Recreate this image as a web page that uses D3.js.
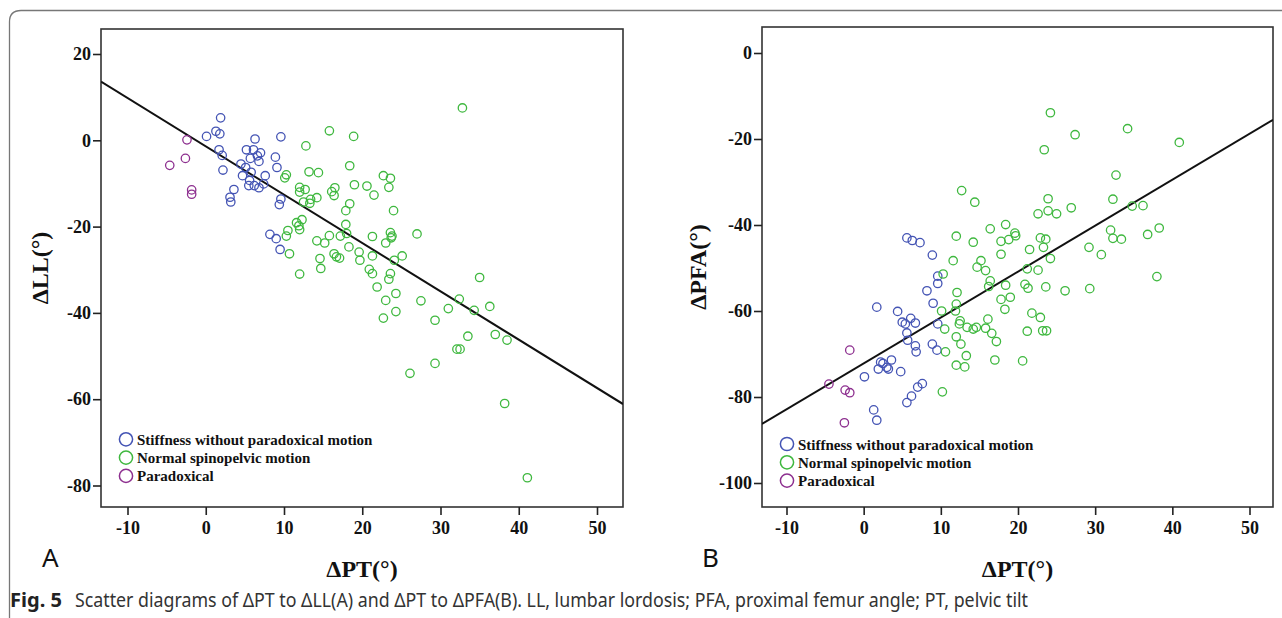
<!DOCTYPE html>
<html><head><meta charset="utf-8">
<script src="https://cdn.jsdelivr.net/npm/d3@7"></script>
<style>
body{margin:0;background:#fff;}
svg{display:block;}
</style></head>
<body><svg id="c" width="1282" height="618"></svg>
<script>
// ---- Data: panel A (ΔPT vs ΔLL)
const groupNames = ["Stiffness without paradoxical motion","Normal spinopelvic motion","Paradoxical"];
const groupColors = ["#4454b4","#3fb83f","#8d2f8f"];
const xTicks = [-10,0,10,20,30,40,50];
const yTicksA = [20,0,-20,-40,-60,-80];
const yTicksB = [0,-20,-40,-60,-80,-100];

const stiffA = [[1.9,5.2],[0.1,0.9],[1.3,2.1],[1.8,1.5],[1.7,-2.2],[2.1,-3.5],[2.2,-6.9],[3.6,-11.4],[3.1,-13.2],[3.2,-14.3],[6.3,0.3],[5.2,-2.2],[6.1,-2.2],[7.0,-2.9],[6.6,-3.6],[5.7,-4.2],[6.8,-4.9],[4.5,-5.5],[5.1,-6.3],[5.8,-7.4],[4.7,-8.2],[7.6,-8.2],[5.6,-9.3],[5.5,-10.5],[6.2,-10.5],[6.8,-11.0],[7.4,-10.1],[9.6,0.8],[8.9,-3.9],[9.1,-6.3],[9.6,-13.6],[9.4,-14.9],[9.5,-25.3],[8.2,-21.8],[9.0,-22.8]];
const normalA = [[15.8,2.2],[18.9,0.9],[12.8,-1.3],[13.2,-7.3],[14.4,-7.5],[18.4,-5.9],[19.0,-10.3],[10.3,-8.0],[10.1,-8.7],[12.0,-10.9],[12.7,-11.4],[12.0,-12.0],[14.2,-13.3],[13.4,-13.7],[12.5,-14.3],[13.3,-14.6],[16.1,-11.9],[16.5,-11.0],[16.4,-12.8],[18.4,-14.7],[17.9,-16.3],[32.8,7.5],[22.7,-8.2],[23.6,-8.8],[23.4,-10.9],[20.6,-10.6],[21.5,-12.7],[24.0,-16.3],[12.3,-18.4],[11.6,-19.1],[11.9,-19.8],[12.0,-20.7],[10.5,-20.9],[10.3,-22.2],[10.7,-26.3],[12.0,-31.0],[14.2,-23.3],[15.2,-23.8],[15.8,-22.1],[17.2,-22.2],[17.9,-19.5],[18.0,-21.6],[18.3,-24.7],[14.6,-27.4],[14.7,-29.7],[16.4,-26.3],[16.7,-27.0],[17.1,-27.3],[19.6,-25.9],[19.7,-27.8],[21.3,-22.3],[21.3,-26.8],[20.9,-29.9],[21.3,-30.9],[21.9,-34.0],[23.6,-21.4],[23.8,-22.2],[23.7,-22.6],[23.0,-23.8],[24.1,-27.8],[25.1,-26.8],[23.6,-30.9],[23.4,-32.2],[24.3,-35.5],[23.0,-37.1],[24.3,-39.7],[22.7,-41.2],[27.0,-21.7],[27.5,-37.2],[29.3,-41.7],[31.0,-39.0],[32.4,-36.8],[34.3,-39.4],[35.0,-31.8],[36.3,-38.5],[33.5,-45.4],[37.0,-45.0],[38.5,-46.3],[32.1,-48.4],[32.5,-48.4],[29.3,-51.7],[26.1,-54.0],[38.2,-61.0],[41.1,-78.2]];
const paraA = [[-2.4,0.1],[-2.6,-4.2],[-4.6,-5.8],[-1.8,-11.5],[-1.8,-12.5]];
const fitA = [-1.40,-1.12]; // intercept, slope

// ---- Data: panel B (ΔPT vs ΔPFA)
const stiffB = [[5.6,-43.0],[6.3,-43.6],[7.3,-44.1],[8.9,-47.0],[9.6,-51.9],[9.6,-53.6],[8.2,-55.3],[9.0,-58.2],[9.6,-63.0],[1.7,-59.1],[4.4,-60.1],[5.0,-62.6],[5.4,-63.0],[6.1,-61.7],[6.7,-62.8],[5.6,-65.1],[5.7,-66.8],[6.7,-68.1],[6.8,-69.5],[8.9,-67.7],[9.5,-69.1],[3.6,-71.4],[2.2,-71.9],[2.5,-72.2],[1.9,-73.5],[3.0,-73.1],[3.2,-73.5],[4.8,-74.1],[0.1,-75.3],[7.6,-76.9],[7.0,-77.7],[6.2,-79.8],[5.6,-81.3],[1.3,-83.0],[1.7,-85.4]];
const normalB = [[12.7,-32.0],[14.4,-34.7],[12.0,-42.6],[14.2,-44.0],[16.4,-40.9],[18.4,-39.9],[17.8,-43.8],[18.8,-43.4],[19.6,-41.9],[19.7,-42.5],[17.8,-46.8],[24.2,-13.9],[27.4,-19.0],[23.4,-22.5],[34.2,-17.6],[40.9,-20.8],[32.7,-28.4],[23.9,-33.9],[32.3,-34.0],[22.6,-37.4],[23.9,-36.7],[25.0,-37.4],[26.9,-36.0],[34.8,-35.6],[36.2,-35.5],[22.9,-43.0],[23.6,-43.3],[23.3,-45.2],[21.5,-45.7],[24.2,-47.8],[32.0,-41.2],[32.3,-43.1],[33.4,-43.3],[36.8,-42.2],[38.3,-40.7],[29.2,-45.2],[30.8,-46.9],[38.0,-52.0],[21.2,-50.2],[22.6,-50.5],[18.4,-54.0],[20.9,-53.8],[21.3,-54.7],[23.6,-54.4],[26.1,-55.3],[29.3,-54.8],[19.0,-56.8],[17.8,-57.3],[18.3,-59.6],[21.8,-60.5],[22.9,-61.5],[11.6,-48.3],[15.2,-48.3],[14.7,-49.8],[15.8,-50.6],[10.3,-51.4],[16.4,-53.0],[16.2,-54.3],[12.1,-55.7],[12.0,-58.4],[10.1,-60.0],[11.9,-60.0],[12.5,-62.3],[12.4,-63.0],[13.4,-63.8],[14.2,-64.2],[14.6,-63.8],[16.1,-61.9],[15.8,-64.0],[16.6,-65.2],[17.2,-67.1],[10.5,-64.2],[12.0,-66.0],[12.6,-67.7],[10.6,-69.5],[13.3,-70.4],[12.0,-72.6],[13.1,-73.0],[17.0,-71.4],[20.6,-71.6],[21.2,-64.7],[23.2,-64.6],[23.7,-64.6],[10.2,-78.8]];
const paraB = [[-1.8,-69.1],[-4.5,-77.0],[-2.4,-78.4],[-1.8,-79.0],[-2.5,-86.0]];
const fitB = [-72.2,1.068];

const SERIF = "'Liberation Serif', 'Times New Roman', serif";
const svg = d3.select("#c");

// outer figure frame
svg.append("path").attr("d","M9.5,618 L9.5,22 Q9.5,10.5 21,10.5 L1282,10.5")
  .attr("fill","none").attr("stroke","#777").attr("stroke-width",1.3);

function styleTicks(sel){
  sel.selectAll(".tick text")
    .style("font-family",SERIF).style("font-weight","bold").style("font-size","18px").style("fill","#111");
  sel.selectAll(".tick line").attr("stroke","#222").attr("stroke-width",1.6);
  sel.select(".domain").remove();
}

function panel(cfg){
  const g = svg.append("g");
  const x = d3.scaleLinear().domain([-10,50]).range(cfg.xr);
  const y = d3.scaleLinear().domain(cfg.yd).range(cfg.yr);
  const [bx0,bx1,by0,by1] = cfg.box;
  g.append("rect").attr("x",bx0).attr("y",by0).attr("width",bx1-bx0).attr("height",by1-by0)
    .attr("fill","#fff").attr("stroke","#333").attr("stroke-width",1.6);
  const ax = g.append("g").attr("transform",`translate(0,${by1})`)
    .call(d3.axisBottom(x).tickValues(xTicks).tickSize(8).tickPadding(6).tickFormat(d=>String(d)));
  styleTicks(ax);
  const ay = g.append("g").attr("transform",`translate(${bx0},0)`)
    .call(d3.axisLeft(y).tickValues(cfg.yt).tickSize(8).tickPadding(2).tickFormat(d=>String(d)));
  styleTicks(ay);
  const clipId = "clip"+cfg.id;
  g.append("clipPath").attr("id",clipId).append("rect").attr("x",bx0).attr("y",by0).attr("width",bx1-bx0).attr("height",by1-by0);
  const xa = x.invert(bx0), xb = x.invert(bx1);
  g.append("line").attr("clip-path",`url(#${clipId})`)
    .attr("x1",x(xa)).attr("y1",y(cfg.fit[0]+cfg.fit[1]*xa))
    .attr("x2",x(xb)).attr("y2",y(cfg.fit[0]+cfg.fit[1]*xb))
    .attr("stroke","#111").attr("stroke-width",2);
  cfg.groups.forEach((pts,i)=>{
    g.append("g").selectAll("circle").data(pts).join("circle")
      .attr("cx",d=>x(d[0])).attr("cy",d=>y(d[1])).attr("r",4.2)
      .attr("fill","none").attr("stroke",groupColors[i]).attr("stroke-width",1.3);
  });
  const lg = g.append("g");
  groupNames.forEach((n,i)=>{
    const yy = cfg.leg[1] + i*18.3;
    lg.append("circle").attr("cx",cfg.leg[0]).attr("cy",yy).attr("r",6.6)
      .attr("fill","none").attr("stroke",groupColors[i]).attr("stroke-width",1.5);
    lg.append("text").attr("x",cfg.leg[0]+11).attr("y",yy+5.5).text(n)
      .style("font-family",SERIF).style("font-weight","bold")
      .style("font-size","15px").attr("fill","#111");
  });
  g.append("text").attr("x",(bx0+bx1)/2).attr("y",577).attr("text-anchor","middle")
    .style("font-family",SERIF).style("font-weight","bold").style("font-size","24px")
    .attr("fill","#111").text("ΔPT(°)");
  g.append("text").attr("transform",`translate(${cfg.ytx},${(by0+by1)/2}) rotate(-90)`).attr("text-anchor","middle")
    .style("font-family",SERIF).style("font-weight","bold").style("font-size","24px")
    .attr("fill","#111").text(cfg.ytitle);
  g.append("text").attr("x",cfg.letter[0]).attr("y",cfg.letter[1])
    .style("font-family","'Noto Sans', 'Open Sans', sans-serif").style("font-size","26px").attr("fill","#111").text(cfg.id);
}

panel({id:"A", xr:[127.5,597], yd:[20,-80], yr:[54,485.5], yt:yTicksA, box:[101,623,29,507],
  groups:[stiffA,normalA,paraA], fit:fitA, leg:[126,439.3], ytitle:"ΔLL(°)", ytx:48, letter:[42,567]});
panel({id:"B", xr:[786.5,1249.5], yd:[0,-100], yr:[53,483], yt:yTicksB, box:[762,1273,27,507],
  groups:[stiffB,normalB,paraB], fit:fitB, leg:[787,444], ytitle:"ΔPFA(°)", ytx:706, letter:[702,567]});

// caption
const cap = svg.append("text").attr("x",10).attr("y",607)
  .style("font-family","'Noto Sans', 'Open Sans', sans-serif").style("font-size","19px").attr("fill","#333");
cap.append("tspan").attr("font-weight","bold").attr("fill","#222").attr("textLength",52).attr("lengthAdjust","spacingAndGlyphs").text("Fig. 5");
cap.append("tspan").attr("x",75).attr("textLength",953).attr("lengthAdjust","spacingAndGlyphs")
  .text("Scatter diagrams of ΔPT to ΔLL(A) and ΔPT to ΔPFA(B). LL, lumbar lordosis; PFA, proximal femur angle; PT, pelvic tilt");
</script></body></html>
